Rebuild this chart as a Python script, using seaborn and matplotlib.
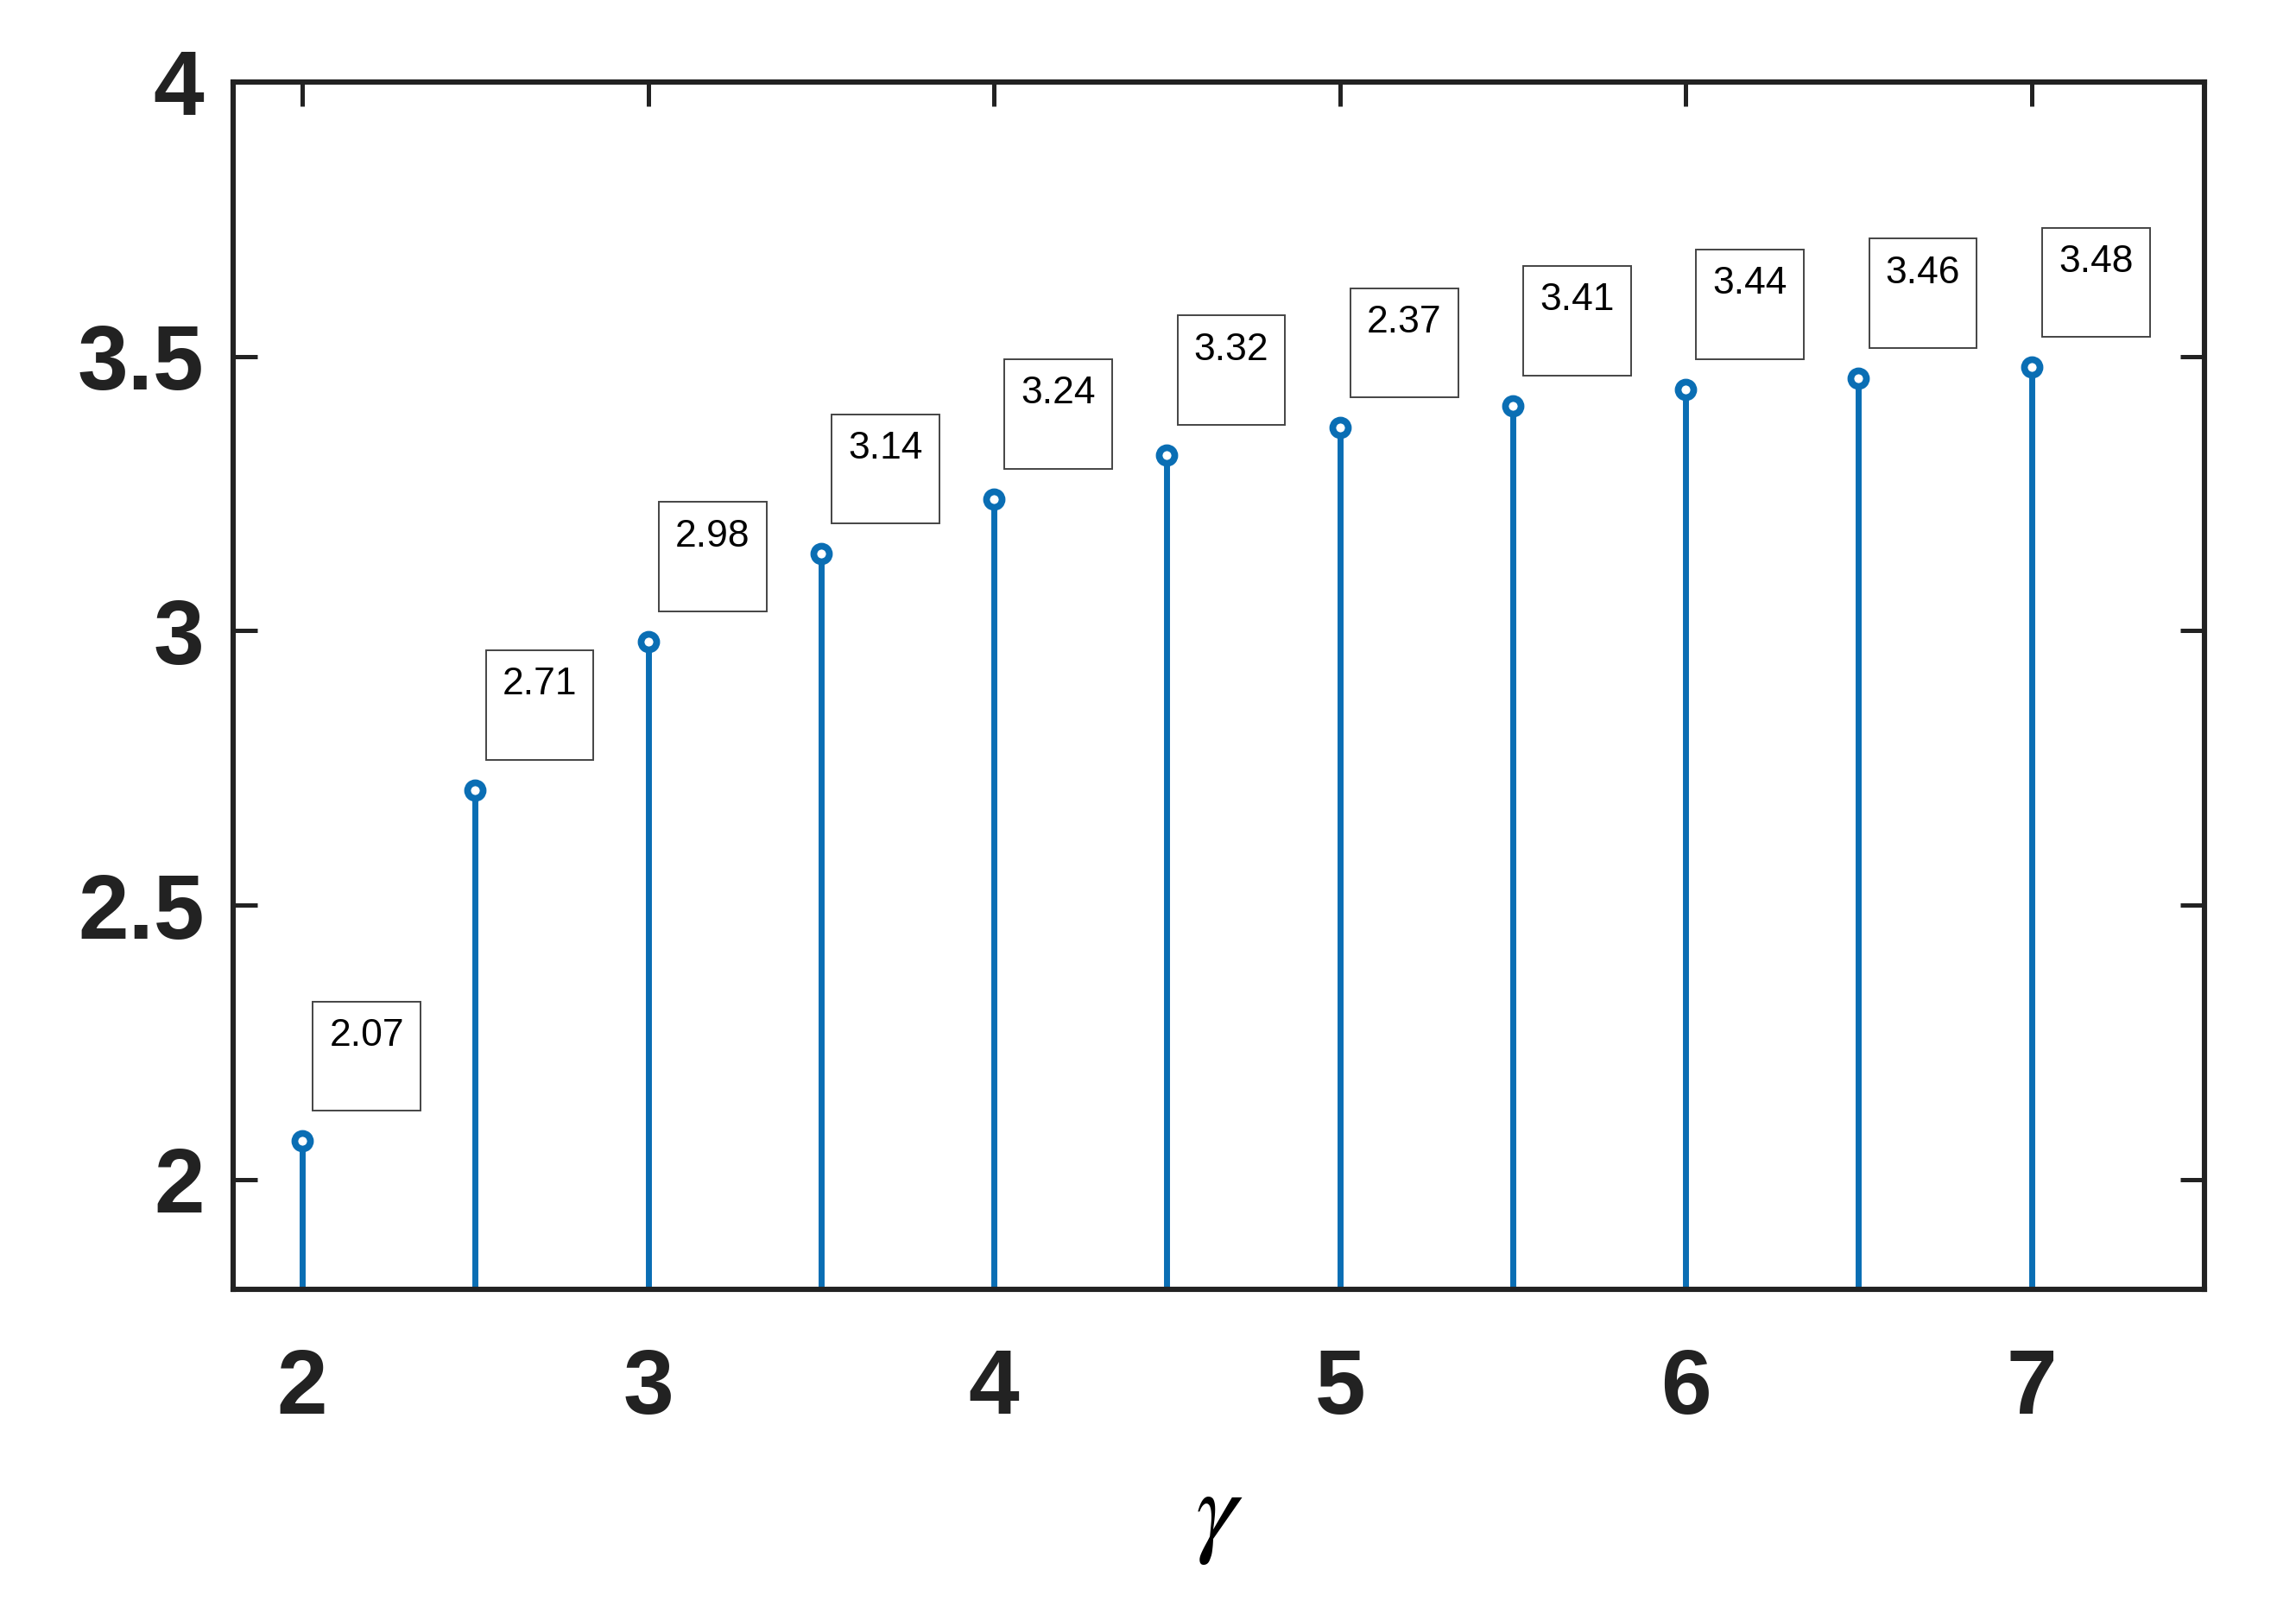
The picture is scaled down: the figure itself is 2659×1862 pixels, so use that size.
import numpy as np
import pandas as pd
import matplotlib
matplotlib.use("Agg")
import matplotlib.pyplot as plt
import seaborn as sns

# ---- data ----
gamma = [2.0, 2.5, 3.0, 3.5, 4.0, 4.5, 5.0, 5.5, 6.0, 6.5, 7.0]
values = [2.07, 2.71, 2.98, 3.14, 3.24, 3.32, 3.37, 3.41, 3.44, 3.46, 3.48]
box_labels = ["2.07", "2.71", "2.98", "3.14", "3.24", "3.32", "2.37",
              "3.41", "3.44", "3.46", "3.48"]
xticks = [2, 3, 4, 5, 6, 7]
yticks = [2, 2.5, 3, 3.5, 4]
ytick_labels = ["2", "2.5", "3", "3.5", "4"]

df = pd.DataFrame({"gamma": gamma, "value": values, "label": box_labels})

sns.set_theme(style="ticks")
plt.rcParams["font.family"] = ["Liberation Sans", "DejaVu Sans"]
plt.rcParams["mathtext.fontset"] = "stix"

blue = "#0A6EB4"
fig = plt.figure(figsize=(2659 / 200, 1862 / 200), dpi=200)
ax = fig.add_axes([0.1015, 0.1982, 0.9601 - 0.1015, 0.949 - 0.1982])

ax.vlines(df["gamma"], 0, df["value"], color=blue, lw=2.5, zorder=2)
sns.scatterplot(data=df, x="gamma", y="value", ax=ax, marker="o", s=6.5 ** 2,
                facecolor="white", edgecolor=blue, linewidth=2.8, zorder=3,
                legend=False)

for _, r in df.iterrows():
    ax.annotate(r["label"] + "\n", xy=(r["gamma"], r["value"]),
                xytext=(4.3 + 7.0, 12.5 + 7.0), textcoords="offset points",
                ha="left", va="bottom", fontsize=16, color="black",
                bbox=dict(boxstyle="square,pad=0.43", fc="white",
                          ec="#444444", lw=0.7),
                zorder=4)

ax.set_xlim(1.8, 7.5)
ax.set_ylim(1.8, 4)
ax.set_xticks(xticks)
ax.set_xticklabels([str(t) for t in xticks])
ax.set_yticks(yticks)
ax.set_yticklabels(ytick_labels)

for s in ax.spines.values():
    s.set_visible(True)
    s.set_linewidth(2.2)
    s.set_color("#222222")

ax.tick_params(axis="both", which="major", direction="in", length=10,
               width=1.8, color="#222222", top=True, right=True,
               labelsize=38, labelcolor="#222222")
ax.tick_params(axis="x", pad=24)
ax.tick_params(axis="y", pad=12)
for lab in ax.get_xticklabels() + ax.get_yticklabels():
    lab.set_fontweight("bold")

ax.set_xlabel(r"$\gamma$", fontsize=44, labelpad=15, color="black")
ax.set_ylabel("")

fig.savefig("out.png", dpi=200, facecolor="white")
